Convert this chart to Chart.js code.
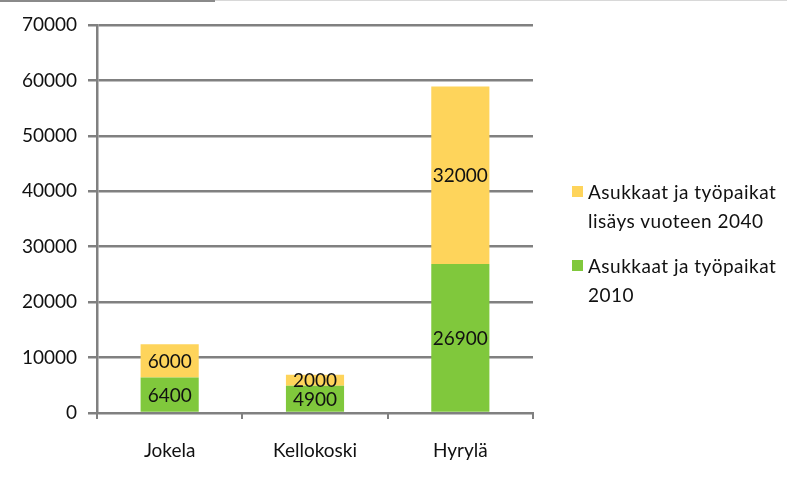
<!DOCTYPE html>
<html>
<head>
<meta charset="utf-8">
<script src="https://cdn.jsdelivr.net/npm/chart.js@4/dist/chart.umd.min.js"></script>
<style>
  html, body { margin: 0; padding: 0; background: #fff; }
  #wrap { position: relative; width: 787px; height: 478px; }
  #topline { position: absolute; left: 0; top: 0; width: 215px; height: 2px; background: #8a8a8a; }
  #topline2 { position: absolute; left: 215px; top: 0; width: 572px; height: 1px; background: #d8d8d8; }
  #legend { position: absolute; left: 572px; top: 177px; font-family: Lato, "Open Sans", sans-serif; font-size: 19px; letter-spacing: 0.5px; color: #111; }
  .item { display: flex; align-items: flex-start; margin-bottom: 16px; line-height: 29px; }
  .sw { width: 11px; height: 11px; margin-top: 9px; margin-right: 5px; flex: none; }
</style>
</head>
<body>
<div id="wrap">
  <canvas id="chart" width="787" height="478"></canvas>
  <div id="topline"></div><div id="topline2"></div>
  <div id="legend"></div>
</div>
<script>
const kunnat = ["Jokela", "Kellokoski", "Hyrylä"];
const vuosi2010 = [6400, 4900, 26900];
const lisays2040 = [6000, 2000, 32000];
const sarjat = ["Asukkaat ja työpaikat 2010", "Asukkaat ja työpaikat lisäys vuoteen 2040"];
const yTicks = [0, 10000, 20000, 30000, 40000, 50000, 60000, 70000];

const green = "#80c83c";
const yellow = "#fed45b";
const grey = "#808080";
const font = "Lato, 'Open Sans', sans-serif";

const arvoPlugin = {
  id: "arvot",
  afterDatasetsDraw(chart) {
    const ctx = chart.ctx;
    ctx.save();
    ctx.font = "19px " + font;
    ctx.fillStyle = "#111";
    ctx.textAlign = "center";
    ctx.textBaseline = "middle";
    chart.data.datasets.forEach((ds, i) => {
      chart.getDatasetMeta(i).data.forEach((bar, j) => {
        const mid = (bar.y + bar.base) / 2;
        ctx.fillText(String(ds.data[j]), bar.x, mid + 1);
      });
    });
    ctx.restore();
  }
};

new Chart(document.getElementById("chart"), {
  type: "bar",
  data: {
    labels: kunnat,
    datasets: [
      { label: sarjat[0], data: vuosi2010, backgroundColor: green },
      { label: sarjat[1], data: lisays2040, backgroundColor: yellow }
    ]
  },
  options: {
    responsive: false,
    animation: false,
    layout: { padding: { top: 25, right: 254, left: 0, bottom: 0 } },
    barPercentage: 0.8,
    categoryPercentage: 0.5,
    plugins: { legend: { display: false }, tooltip: { enabled: false } },
    scales: {
      x: {
        stacked: true,
        grid: { drawOnChartArea: false, color: grey, lineWidth: 2, tickLength: 6, offset: true },
        border: { color: grey, width: 2 },
        ticks: { color: "#111", font: { family: font, size: 19 }, padding: 20 },
        afterFit(s) { s.height = 65; }
      },
      y: {
        stacked: true,
        min: 0,
        max: 70000,
        afterBuildTicks(s) { s.ticks = yTicks.map(v => ({ value: v })); },
        grid: { color: grey, lineWidth: 2.5, tickLength: 9 },
        border: { color: grey, width: 2.5 },
        ticks: { color: "#111", font: { family: font, size: 19 }, padding: 11, callback: v => String(v) },
        afterFit(s) { s.width = 97; }
      }
    }
  },
  plugins: [arvoPlugin]
});

const legend = document.getElementById("legend");
[[yellow, "Asukkaat ja työpaikat<br>lisäys vuoteen 2040"], [green, "Asukkaat ja työpaikat<br>2010"]].forEach(([vari, html]) => {
  const d = document.createElement("div");
  d.className = "item";
  d.innerHTML = '<span class="sw" style="background:' + vari + '"></span><span>' + html + "</span>";
  legend.appendChild(d);
});
</script>
</body>
</html>
